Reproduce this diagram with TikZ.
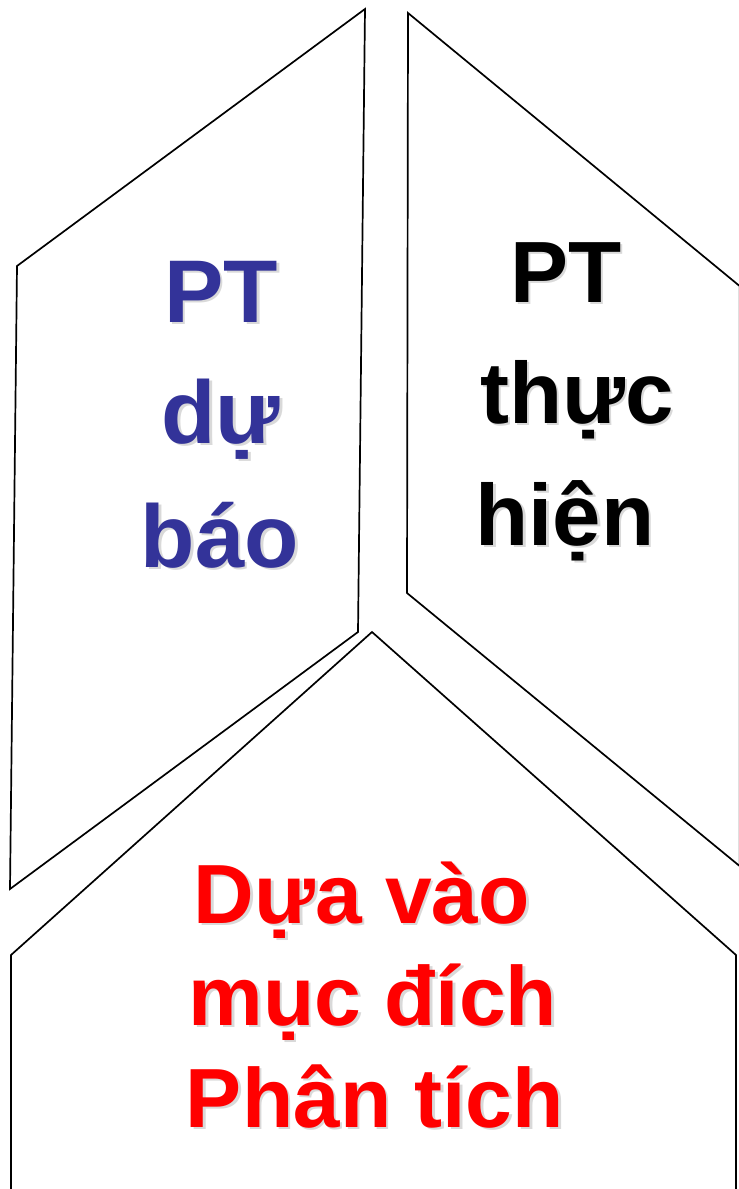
\documentclass[tikz,border=0pt]{standalone}
\usepackage{fontspec}
\setmainfont{Liberation Sans}
\usetikzlibrary{calc}
\definecolor{ptblue}{HTML}{333399}
\definecolor{ptred}{HTML}{FF0000}
\tikzset{
  panel/.style={draw=black, line width=1.7pt, line join=miter, fill=white},
  word/.style={anchor=base, inner sep=0pt, font=\bfseries},
  wordshadow/.style={word, text=black, opacity=0.15},
}
% label with a soft drop shadow: name, position, colour, size, text
\newcommand{\shadowlabel}[5]{%
  \node[wordshadow, font=\bfseries\fontsize{#4}{#4}\selectfont] (#1-sh) at ($(#2)+(2.5,2.5)$) {#5};
  \node[word, text=#3, font=\bfseries\fontsize{#4}{#4}\selectfont] (#1) at (#2) {#5};
}
\begin{document}
\begin{tikzpicture}[x=1pt, y=-1pt]
  \useasboundingbox (0,0) rectangle (739,1189);
  \clip (0,0) rectangle (739,1189);

  % left panel
  \draw[panel] (365,9) -- (17,266) -- (10,889) -- (358,632) -- cycle;
  % right panel
  \draw[panel] (408,13) -- (739.6,286) -- (739.6,866) -- (407,593) -- cycle;
  % bottom panel
  \draw[panel] (372,632) -- (736,955) -- (736,1200) -- (11,1200) -- (11,955) -- cycle;

  % left panel text
  \shadowlabel{lt1}{221,322}{ptblue}{89}{PT}
  \shadowlabel{lt2}{221,443}{ptblue}{89}{dự}
  \shadowlabel{lt3}{220,567}{ptblue}{89}{báo}

  % right panel text
  \shadowlabel{rt1}{566,302}{black}{87}{PT}
  \shadowlabel{rt2}{577,423}{black}{87}{thực}
  \shadowlabel{rt3}{565,545}{black}{87}{hiện}

  % bottom panel text
  \shadowlabel{bt1}{362,923}{ptred}{84}{Dựa vào}
  \shadowlabel{bt2}{373,1025}{ptred}{84}{mục đích}
  \shadowlabel{bt3}{375,1127}{ptred}{84}{Phân tích}
\end{tikzpicture}
\end{document}
